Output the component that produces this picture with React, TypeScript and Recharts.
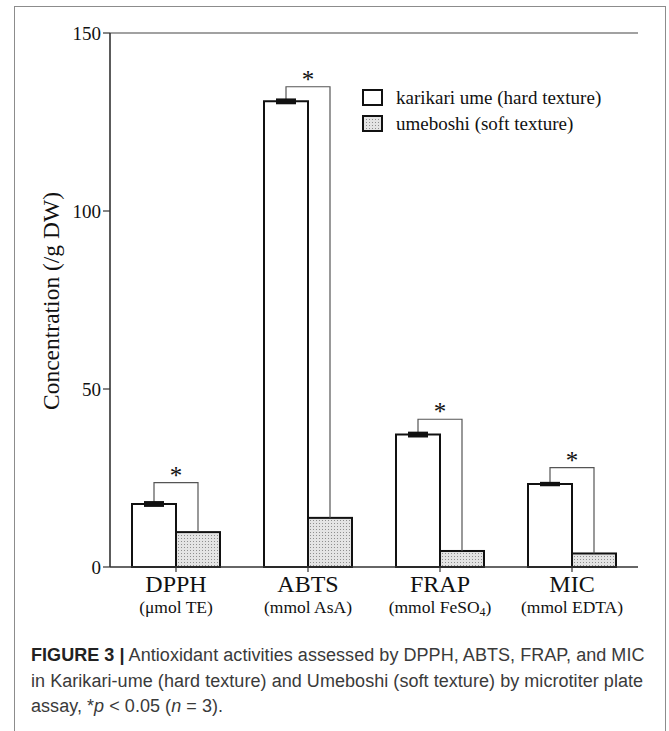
import React from 'react';
import { BarChart, Bar, XAxis, YAxis, ErrorBar, ReferenceLine, Label } from 'recharts';

// values
const categories = ['DPPH', 'ABTS', 'FRAP', 'MIC'];
const units = ['(\u03bcmol TE)', '(mmol AsA)', '(mmol FeSO4)', '(mmol EDTA)'];
const karikari = [17.7, 130.8, 37.2, 23.3];
const karikariErr = [0.4, 0.4, 0.4, 0.2];
const umeboshi = [9.8, 13.8, 4.5, 3.8];
const bracketTop = [23.7, 134.9, 41.5, 27.9];
const yTicks = [0, 50, 100, 150];

const seriesNames = ['karikari ume (hard texture)', 'umeboshi (soft texture)'];

const data = categories.map((c, i) => ({
  name: c,
  unit: units[i],
  karikari: karikari[i],
  karikariErr: karikariErr[i],
  umeboshi: umeboshi[i],
  bracket: bracketTop[i],
}));

const SERIF = '"Liberation Serif", "Times New Roman", serif';
const SANS = '"Liberation Sans", Arial, sans-serif';

// renders "FeSO4" with the 4 as a subscript
const unitParts = (s: string) => {
  const m = s.match(/^(.*?)(\d)(\))$/);
  if (!m) return [<tspan key="a">{s}</tspan>];
  return [
    <tspan key="a">{m[1]}</tspan>,
    <tspan key="b" fontSize={12} dy={3}>{m[2]}</tspan>,
    <tspan key="c" dy={-3}>{m[3]}</tspan>,
  ];
};

const CategoryTick = (props: any) => {
  const { x, y, payload } = props;
  const row = data.find((d) => d.name === payload.value);
  return (
    <g transform={`translate(${x},${y})`}>
      <text y={20} textAnchor="middle" fontFamily={SERIF} fontSize={24} fill="#111">
        {payload.value}
      </text>
      <text y={41} textAnchor="middle" fontFamily={SERIF} fontSize={17.5} fill="#111">
        {row ? unitParts(row.unit) : null}
      </text>
    </g>
  );
};

// grey bar plus the significance bracket drawn off the bar's own scale
const SoftBar = (props: any) => {
  const { x, y, width, height, payload } = props;
  const k = height / payload.umeboshi;
  const base = y + height;
  const whiteTop = base - (payload.karikari + payload.karikariErr) * k;
  const top = base - payload.bracket * k;
  const lx = x - width / 2;
  const rx = x + width / 2;
  return (
    <g>
      <rect x={x} y={y} width={width} height={height} fill="url(#dots)" stroke="#111" strokeWidth={2} />
      <path
        d={`M${lx},${whiteTop} V${top} H${rx} V${y}`}
        fill="none"
        stroke="#555"
        strokeWidth={1.2}
      />
      <text x={(lx + rx) / 2} y={top + 1} textAnchor="middle" fontFamily={SERIF} fontSize={25} fill="#111">
        *
      </text>
    </g>
  );
};

const LegendBox = () => (
  <div style={{ fontFamily: SERIF, fontSize: 19, color: '#111' }}>
    {seriesNames.map((n, i) => (
      <div key={n} style={{ display: 'flex', alignItems: 'center', height: 26 }}>
        <svg width={22} height={18} style={{ marginRight: 12 }}>
          <rect x={1} y={1} width={19} height={15} fill={i === 0 ? '#fff' : 'url(#dots)'} stroke="#111" strokeWidth={2} />
        </svg>
        <span>{n}</span>
      </div>
    ))}
  </div>
);

const YTitle = () => (
  <text
    transform="translate(59,301) rotate(-90)"
    textAnchor="middle"
    fontFamily={SERIF}
    fontSize={23.5}
    fill="#111"
  >
    Concentration (/g DW)
  </text>
);

export default function App() {
  return (
    <div style={{ position: 'absolute', left: 0, top: 0, width: 669, height: 731, background: '#fff', overflow: 'hidden' }}>
      <div
        style={{
          position: 'absolute',
          left: 14,
          top: 6,
          width: 652,
          height: 760,
          border: '1.5px solid #8c8c8c',
          boxSizing: 'border-box',
        }}
      />
      <svg width={0} height={0} style={{ position: 'absolute' }}>
        <defs>
          <pattern id="dots" width={3} height={3} patternUnits="userSpaceOnUse">
            <rect width={3} height={3} fill="#e4e4e4" />
            <rect x={1} y={1} width={1} height={1} fill="#8f8f8f" />
          </pattern>
        </defs>
      </svg>
      <div style={{ position: 'absolute', left: 0, top: 0 }}>
        <BarChart
          width={669}
          height={640}
          data={data}
          margin={{ top: 33, right: 31, left: 50, bottom: 23 }}
          barGap={0}
          barSize={44}
        >
          <XAxis
            dataKey="name"
            height={50}
            tick={<CategoryTick />}
            tickSize={5}
            tickMargin={0}
            axisLine={{ stroke: '#333', strokeWidth: 1.6 }}
            tickLine={{ stroke: '#333', strokeWidth: 1.2 }}
            interval={0}
          />
          <YAxis
            width={60}
            domain={[0, 150]}
            ticks={yTicks}
            tickSize={7}
            tickMargin={2}
            axisLine={{ stroke: '#333', strokeWidth: 1.6 }}
            tickLine={{ stroke: '#333', strokeWidth: 1.2 }}
            tick={{ fontFamily: SERIF, fontSize: 19, fill: '#111' }}
          >
            <Label content={<YTitle />} />
          </YAxis>
          <YAxis
            yAxisId="right"
            orientation="right"
            width={0}
            domain={[0, 150]}
            tick={false}
            tickLine={false}
            axisLine={{ stroke: '#444', strokeWidth: 1.2 }}
          />
          <ReferenceLine y={150} stroke="#444" strokeWidth={1.2} />
          <Bar
            dataKey="karikari"
            name={seriesNames[0]}
            fill="#fff"
            stroke="#111"
            strokeWidth={2}
            isAnimationActive={false}
          >
            <ErrorBar dataKey="karikariErr" width={10} strokeWidth={3} stroke="#111" direction="y" />
          </Bar>
          <Bar
            dataKey="umeboshi"
            name={seriesNames[1]}
            fill="url(#dots)"
            shape={<SoftBar />}
            isAnimationActive={false}
          />
        </BarChart>
      </div>
      <div style={{ position: 'absolute', left: 362, top: 85 }}>
        <LegendBox />
      </div>
      <div
        style={{
          position: 'absolute',
          left: 31,
          top: 643,
          fontFamily: SANS,
          fontSize: 18,
          lineHeight: '25.5px',
          color: '#3a3a3a',
          whiteSpace: 'nowrap',
          letterSpacing: '0.05px',
        }}
      >
        <div>
          <b style={{ color: '#222' }}>FIGURE 3 |</b> Antioxidant activities assessed by DPPH, ABTS, FRAP, and MIC
        </div>
        <div>in Karikari-ume (hard texture) and Umeboshi (soft texture) by microtiter plate</div>
        <div>
          assay, *<i>p</i> &lt; 0.05 (<i>n</i> = 3).
        </div>
      </div>
    </div>
  );
}
